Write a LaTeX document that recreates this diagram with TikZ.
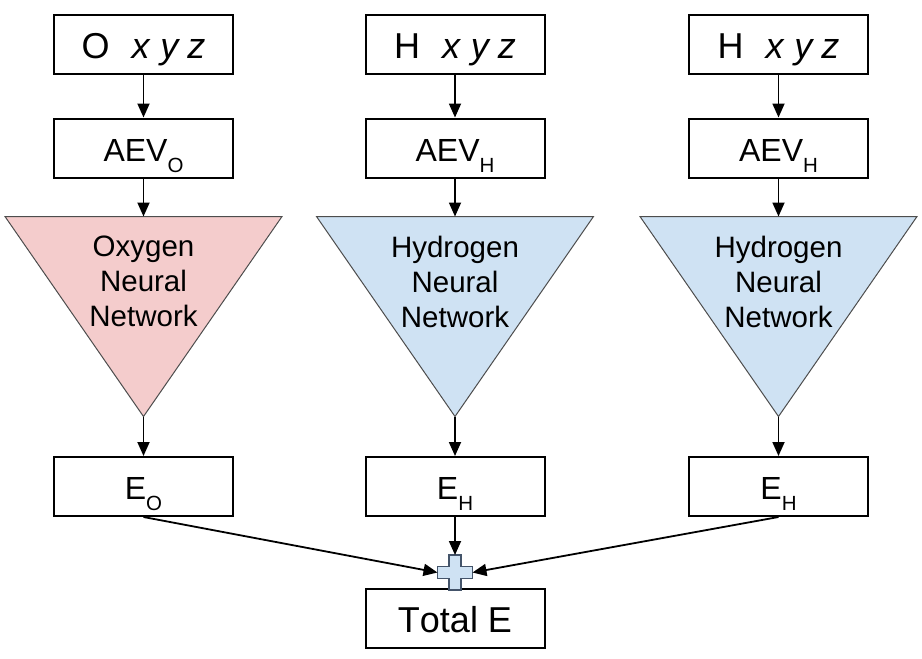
\documentclass[tikz,border=0pt]{standalone}
\usepackage{fontspec}
\setmainfont{Liberation Sans}[Kerning=Off]
\usetikzlibrary{positioning, calc, arrows.meta}
\definecolor{oxpink}{HTML}{F4CCCC}
\definecolor{hyblue}{HTML}{CFE2F3}
\definecolor{edgegray}{HTML}{4D4D4D}
\definecolor{plusedge}{HTML}{44546A}

\newcommand*{\lowsub}[1]{\raisebox{-11pt}{\fontsize{20.5}{20.5}\selectfont #1}}

\begin{document}
\begin{tikzpicture}[x=1pt, y=-1pt,
  box/.style={rectangle, draw, line width=2pt, minimum width=179pt, minimum height=59pt, inner sep=0pt, text height=26pt, text depth=0pt, font=\fontsize{32}{32}\selectfont},
  bigbox/.style={box, text height=29pt, font=\fontsize{36}{36}\selectfont},
  net/.style={draw=edgegray, line width=1pt},
  nettext/.style={align=center, inner sep=0pt, font=\fontsize{29.5}{35}\selectfont},
  arr/.style={-{Triangle[length=14pt, width=12pt]}, line width=1.8pt},
  plus/.style={draw=plusedge, fill=hyblue, line width=1.2pt}]

\useasboundingbox (0,0) rectangle (922,659);

\newcommand*{\netcolumn}[5]{
\node [bigbox] (#1in) at (#2,44) {#3\hspace{22pt}\textit{x\hspace{11pt}y\hspace{9pt}z}};
\node [box, below=43pt of #1in] (#1aev) {AEV\lowsub{#3}};
\coordinate (#1top) at ($(#1aev.south)+(0,38)$);
\coordinate (#1tip) at ($(#1top)+(0,200)$);
\filldraw [net, fill=#4] ($(#1top)+(-138.5,0)$) -- ($(#1top)+(138.5,0)$) -- (#1tip) -- cycle;
\node [nettext] (#1nn) at ($(#1top)+(0,65)$) {#5\\Neural\\Network};
\node [box, below=39.5pt of #1tip] (#1e) {E\lowsub{#3}};
\draw[arr] (#1in) -- (#1aev);
\draw[arr] (#1aev) -- (#1top);
\draw[arr] (#1tip) -- (#1e);
}

% COLUMNS

\netcolumn{o}{143.5}{O}{oxpink}{Oxygen}
\netcolumn{h}{455}{H}{hyblue}{Hydrogen}
\netcolumn{hh}{778.5}{H}{hyblue}{Hydrogen}

% SUM

\node [bigbox] (total) at (455,618) {Total E};

\coordinate (sum) at (455,572.5);
\coordinate (sumL) at ($(sum)+(-17.5,0)$);
\coordinate (sumR) at ($(sum)+(17.5,0)$);
\coordinate (sumT) at ($(sum)+(0,-17.5)$);
\filldraw [plus] ($(sum)+(-6,-17.5)$) -- ++(12,0) -- ++(0,11.5) -- ++(11.5,0) -- ++(0,12) -- ++(-11.5,0) -- ++(0,11.5) -- ++(-12,0) -- ++(0,-11.5) -- ++(-11.5,0) -- ++(0,-12) -- ++(11.5,0) -- cycle;

% ARROWS

\draw[arr] (oe.south) -- (sumL);
\draw[arr] (he) -- (sumT);
\draw[arr] (hhe.south) -- (sumR);

\end{tikzpicture}
\end{document}
